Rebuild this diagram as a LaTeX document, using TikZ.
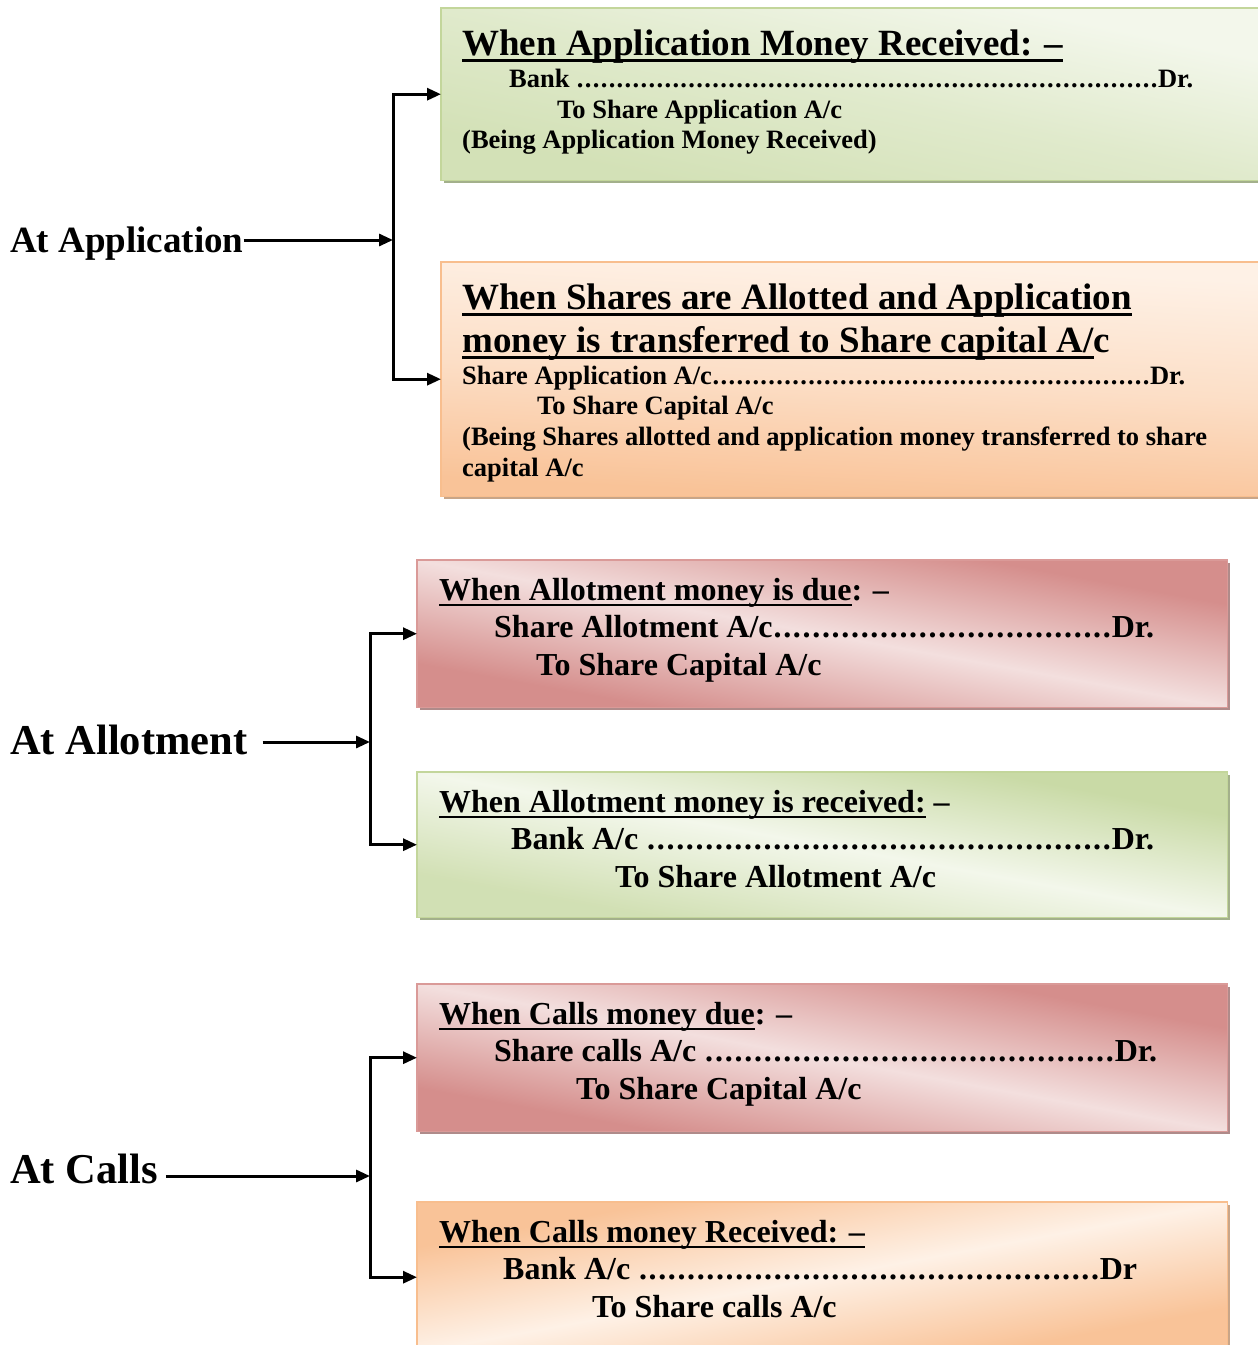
\documentclass[tikz,border=0pt]{standalone}
\usepackage{fontspec}
\setmainfont{Liberation Serif}
\usetikzlibrary{arrows.meta}

\definecolor{grnA}{HTML}{F3F7EB}
\definecolor{grnB}{HTML}{C9DAA6}
\definecolor{grnEdge}{HTML}{C3D69B}
\definecolor{grnShadow}{HTML}{A3B08B}
\definecolor{orgA}{HTML}{FEF1E6}
\definecolor{orgB}{HTML}{F9C398}
\definecolor{orgEdge}{HTML}{F8BE8E}
\definecolor{orgShadow}{HTML}{C8A588}
\definecolor{pnkA}{HTML}{F3DFDE}
\definecolor{pnkB}{HTML}{D58E8C}
\definecolor{pnkEdge}{HTML}{DA9A98}
\definecolor{pnkShadow}{HTML}{AF8B8A}

% underlined heading text (the rule sits just under the baseline)
\newcommand\hd[1]{\leavevmode\vtop{\hbox{\raisebox{0pt}[\height][0pt]{#1}}\kern0.11em\hrule height0.08em}}
% row of leader dots between an account and "Dr."
\newcommand\dotrow{\xleaders\hbox to 0.3em{\hss.\hss}\hfill}
\newcommand\entry[3]{\hbox to #1{#2\dotrow #3}}

% shadow, gradient and frame of a box node:
% name, width, height, colour family, top, bottom, middle colour, angle
\newcommand\panel[8]{%
  \fill[#4Shadow] ([shift={(3,3)}]#1.north west) rectangle ([shift={(3,3)}]#1.south east);
  \begin{scope}[transform canvas={shift={(#1.center)},xscale=#2/#3}]
    \shade[top color=#5,bottom color=#6,middle color=#7,shading angle=#8]
      (-#3/2,-#3/2) rectangle (#3/2,#3/2);
  \end{scope}
  \draw[#4Edge, line width=1.6pt] (#1.north west) rectangle (#1.south east);
}

\tikzset{
  box/.style={inner sep=0pt, anchor=north west},
  txt/.style={anchor=base west, inner sep=0pt},
  big/.style={txt, font=\bfseries\fontsize{37}{40}\selectfont},
  small/.style={txt, font=\bfseries\fontsize{26.5}{30}\selectfont},
  mid/.style={txt, font=\bfseries\fontsize{32}{36}\selectfont},
  lab/.style={txt, font=\bfseries\fontsize{#1}{#1}\selectfont},
  conn/.style={line width=3pt, line join=miter,
    -{Triangle[length=14pt,width=12pt]}},
}

\begin{document}
\begin{tikzpicture}[x=1pt,y=-1pt]
\useasboundingbox (0,0) rectangle (1258,1345);
\clip (0,0) rectangle (1258,1345);

% ---------- boxes ----------
\node[box, minimum width=821pt, minimum height=172pt] (b1) at (441,8) {};
\node[box, minimum width=821pt, minimum height=234pt] (b2) at (441,262) {};
\node[box, minimum width=810pt, minimum height=147pt] (b3) at (417,560) {};
\node[box, minimum width=810pt, minimum height=145pt] (b4) at (417,772) {};
\node[box, minimum width=810pt, minimum height=147pt] (b5) at (417,984) {};
\node[box, minimum width=810pt, minimum height=150pt] (b6) at (417,1202) {};

\panel{b1}{821}{172}{grn}{grnA}{grnB!75!grnA}{grnA!55!grnB}{-45}
\panel{b2}{821}{234}{org}{orgA}{orgB}{orgA!60!orgB}{-10}
\panel{b3}{810}{147}{pnk}{pnkB}{pnkB}{pnkA}{-45}
\panel{b4}{810}{145}{grn}{grnB}{grnB!80!grnA}{grnA}{-45}
\panel{b5}{810}{147}{pnk}{pnkB}{pnkB}{pnkA}{-45}
\panel{b6}{810}{150}{org}{orgB}{orgB}{orgA}{45}

% ---------- box 1 ----------
\node[big]   (t1a) at (462,55)  {\hd{When Application Money Received: –}};
\node[small] (t1b) at (509,87)  {\entry{684pt}{Bank }{Dr.}};
\node[small] (t1c) at (557,118) {To Share Application A/c};
\node[small] (t1d) at (462,148) {(Being Application Money Received)};

% ---------- box 2 ----------
\node[big]   (t2a) at (462,309) {\hd{When Shares are Allotted and Application}};
\node[big]   (t2b) at (462,352) {\hd{money is transferred to Share capital A/}c};
\node[small] (t2c) at (462,384) {\entry{723pt}{Share Application A/c}{Dr.}};
\node[small] (t2d) at (537,414) {To Share Capital A/c};
\node[small] (t2e) at (462,445) {(Being Shares allotted and application money transferred to share};
\node[small] (t2f) at (462,476) {capital A/c};

% ---------- box 3 ----------
\node[mid] (t3a) at (439,600)  {\hd{When Allotment money is due}: –};
\node[mid] (t3b) at (494,637)  {\entry{660pt}{Share Allotment A/c}{Dr.}};
\node[mid] (t3c) at (536,675)  {To Share Capital A/c};

% ---------- box 4 ----------
\node[mid] (t4a) at (439,812)  {\hd{When Allotment money is received:} –};
\node[mid] (t4b) at (511,849)  {\entry{643pt}{Bank A/c }{Dr.}};
\node[mid] (t4c) at (615,887)  {To Share Allotment A/c};

% ---------- box 5 ----------
\node[mid] (t5a) at (439,1024) {\hd{When Calls money due}: –};
\node[mid] (t5b) at (494,1061) {\entry{663pt}{Share calls A/c }{Dr.}};
\node[mid] (t5c) at (576,1099) {To Share Capital A/c};

% ---------- box 6 ----------
\node[mid] (t6a) at (439,1242) {\hd{When Calls money Received: –}};
\node[mid] (t6b) at (503,1279) {\entry{634pt}{Bank A/c }{Dr}};
\node[mid] (t6c) at (592,1317) {To Share calls A/c};

% ---------- stage labels ----------
\node[lab=37]   (l1) at (10,252)  {At Application};
\node[lab=42.5] (l2) at (10,754)  {At Allotment};
\node[lab=42.5] (l3) at (10,1183) {At Calls};

% ---------- connectors ----------
\coordinate (j1) at (393,240);
\coordinate (j2) at (370,742);
\coordinate (j3) at (370,1176);

\draw[conn] (l1.east |- j1) -- (j1);
\draw[conn] (j1) |- (b1.west);
\draw[conn] (j1) |- (b2.west);

\draw[conn] ([xshift=15pt]l2.east |- j2) -- (j2);
\draw[conn] (j2) |- (b3.west);
\draw[conn] (j2) |- (b4.west);

\draw[conn] ([xshift=8pt]l3.east |- j3) -- (j3);
\draw[conn] (j3) |- (b5.west);
\draw[conn] (j3) |- (b6.west);
\end{tikzpicture}
\end{document}
